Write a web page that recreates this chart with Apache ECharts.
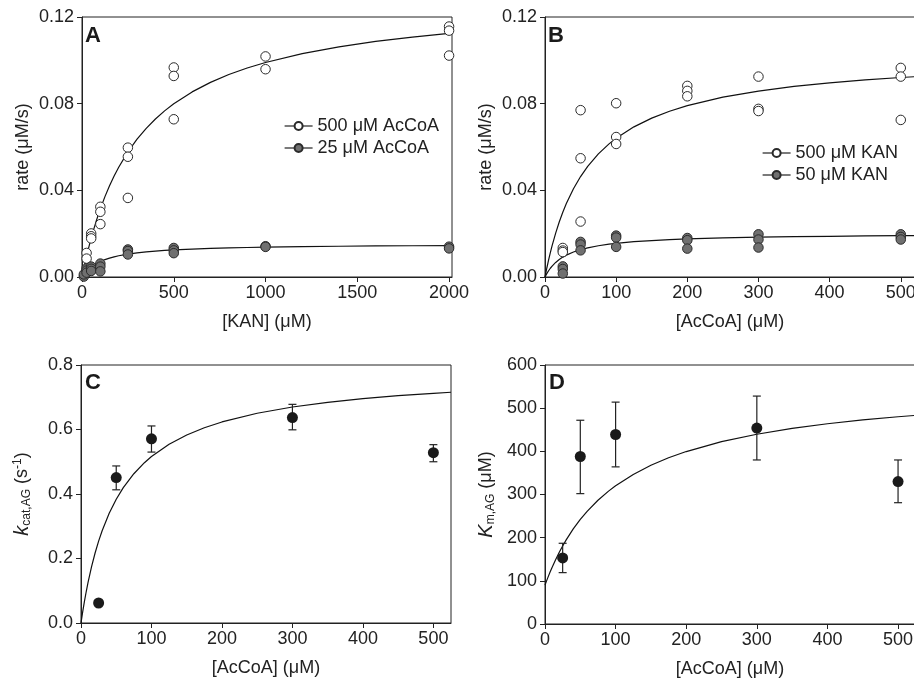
<!DOCTYPE html>
<html>
<head>
<meta charset="utf-8">
<script src="https://cdn.jsdelivr.net/npm/echarts@6/dist/echarts.min.js"></script>
<style>html,body{margin:0;padding:0;background:#fff}#chart{width:914px;height:682px}</style>
</head>
<body>
<div id="chart"></div>
<script>
// ---------- Data ----------
// Panel A: rate vs [KAN]
const aOpenX = [25,25,50,50,50,100,100,100,250,250,250,500,500,500,1000,1000,2000,2000,2000];
const aOpenY = [0.0111,0.0085,0.0201,0.0188,0.0178,0.0324,0.0301,0.0244,0.0597,0.0555,0.0365,0.0967,0.0928,0.0728,0.1018,0.0959,0.1156,0.1137,0.1022];
const aFillX = [10,10,25,25,25,50,50,50,100,100,100,250,250,250,500,500,500,1000,1000,2000,2000];
const aFillY = [0.0002,0.0012,0.0040,0.0030,0.0020,0.0048,0.0038,0.0028,0.0062,0.0048,0.0026,0.0127,0.0120,0.0104,0.0134,0.0123,0.0110,0.0142,0.0139,0.0140,0.0132];
// fitted curves
const aFitX = [0,5,10,15,20,25,30,40,50,60,75,90,100,125,150,175,200,250,300,350,400,450,500,600,700,800,900,1000,1200,1400,1600,1800,2000,2016];
const aFitOpen = [0,0.00204,0.00402,0.00595,0.00781,0.00962,0.01137,0.01473,0.01791,0.02091,0.02513,0.02903,0.03148,0.03710,0.04212,0.04662,0.05068,0.05773,0.06362,0.06863,0.07293,0.07667,0.07995,0.08543,0.08983,0.09344,0.09646,0.09901,0.10311,0.10625,0.10873,0.11074,0.11241,0.11253];
const aFitFill = [0,0.00065,0.00125,0.00180,0.00231,0.00278,0.00322,0.00401,0.00470,0.00532,0.00612,0.00680,0.00720,0.00805,0.00874,0.00932,0.00980,0.01056,0.01114,0.01159,0.01195,0.01225,0.01250,0.01290,0.01320,0.01343,0.01362,0.01377,0.01401,0.01419,0.01432,0.01442,0.01451,0.01452];
const aLegend = ['500 μM AcCoA','25 μM AcCoA'];

// Panel B: rate vs [AcCoA]
const bX = [25,25,25,50,50,50,100,100,100,200,200,200,300,300,300,500,500,500];
const bOpenY = [0.0134,0.0122,0.0115,0.0770,0.0548,0.0256,0.0802,0.0646,0.0614,0.0882,0.0859,0.0834,0.0925,0.0776,0.0766,0.0965,0.0925,0.0725];
const bFillY = [0.0049,0.0037,0.0016,0.0162,0.0150,0.0123,0.0191,0.0182,0.0139,0.0180,0.0170,0.0131,0.0197,0.0173,0.0136,0.0197,0.0185,0.0173];
const bFitX = [0,2.5,5,7.5,10,15,20,25,30,40,50,60,75,90,100,125,150,175,200,250,300,350,400,450,500,520];
const bFitOpen = [0,0.00404,0.00777,0.01124,0.01446,0.02027,0.02537,0.02988,0.03390,0.04075,0.04637,0.05106,0.05681,0.06143,0.06402,0.06930,0.07333,0.07651,0.07908,0.08299,0.08581,0.08795,0.08962,0.09097,0.09208,0.09246];
const bFitFill = [0,0.00155,0.00289,0.00404,0.00505,0.00673,0.00808,0.00918,0.01010,0.01154,0.01263,0.01347,0.01443,0.01515,0.01554,0.01629,0.01683,0.01724,0.01757,0.01804,0.01836,0.01861,0.01879,0.01894,0.01906,0.01910];
const bLegend = ['500 μM KAN','50 μM KAN'];

// Panel C: kcat,AG vs [AcCoA]
const cdX = [25,50,100,300,500];
const cY = [0.062,0.451,0.571,0.637,0.528];
const cLo = [0.062,0.413,0.530,0.599,0.500];
const cHi = [0.062,0.487,0.611,0.678,0.553];
const cFitX = [0,2.5,5,7.5,10,15,20,25,30,40,50,60,75,90,100,125,150,175,200,250,300,350,400,450,500,525];
const cFitY = [0,0.0358,0.0684,0.0984,0.1259,0.1749,0.2171,0.2539,0.2862,0.3403,0.3839,0.4197,0.4629,0.4971,0.5161,0.5542,0.5830,0.6054,0.6234,0.6504,0.6698,0.6843,0.6957,0.7048,0.7122,0.7155];

// Panel D: Km,AG vs [AcCoA]
const dY = [153,388,439,454,330];
const dLo = [119,302,364,380,281];
const dHi = [187,472,514,528,380];
const dFitX = [0,2.5,5,7.5,10,15,20,25,30,40,50,60,75,90,100,125,150,175,200,250,300,350,400,450,500,524];
const dFitY = [90,101.0,111.5,121.5,131.0,149.0,165.5,180.8,194.9,220.2,242.3,261.6,286.7,307.8,320.2,346.5,367.6,385.0,399.5,422.4,439.6,453.1,463.9,472.7,480.1,483.2];

// Tick labels
const ticksKan = [0,500,1000,1500,2000];
const ticksAc = [0,100,200,300,400,500];

// ---------- Helpers ----------
const zip = (xs, ys) => xs.map((x, i) => [x, ys[i]]);
const FONT = 'Liberation Sans, Arial, Helvetica, sans-serif';
const INK = '#222';
const FS = 18;

function xAxis(gridIndex, max, ticks, name) {
  return {
    type: 'value', gridIndex, min: 0, max,
    name, nameLocation: 'middle', nameGap: 36,
    nameTextStyle: { fontFamily: FONT, fontSize: FS, color: INK },
    axisLine: { show: true, lineStyle: { color: INK, width: 1 } },
    axisTick: { show: true, inside: false, length: 5, lineStyle: { color: INK }, customValues: ticks },
    axisLabel: { fontFamily: FONT, fontSize: FS, color: INK, margin: 7, customValues: ticks,
      formatter: v => String(v) },
    splitLine: { show: false }
  };
}
function yAxis(gridIndex, max, interval, digits, name, rich, gap) {
  return {
    type: 'value', gridIndex, min: 0, max, interval,
    name, nameLocation: 'middle', nameGap: gap, nameRotate: 90,
    nameTextStyle: { fontFamily: FONT, fontSize: FS, color: INK, rich: rich || {} },
    axisLine: { show: true, lineStyle: { color: INK, width: 1 } },
    axisTick: { show: true, inside: false, length: 5, lineStyle: { color: INK } },
    axisLabel: { fontFamily: FONT, fontSize: FS, color: INK, margin: 8,
      formatter: v => v.toFixed(digits) },
    splitLine: { show: false }
  };
}
function fit(idx, xs, ys) {
  return { type: 'line', xAxisIndex: idx, yAxisIndex: idx, data: zip(xs, ys),
    showSymbol: false, symbol: 'none', smooth: false,
    lineStyle: { color: '#111', width: 1.2 }, z: 2, silent: true, animation: false };
}
function pts(idx, name, xs, ys, fill) {
  return { type: 'line', name, xAxisIndex: idx, yAxisIndex: idx, data: zip(xs, ys),
    symbol: 'circle', symbolSize: 9.5, showSymbol: true, showAllSymbol: true,
    lineStyle: { opacity: 0, width: 0 },
    itemStyle: { color: fill, borderColor: '#2a2a2a', borderWidth: 1, opacity: 1 },
    z: 4, animation: false };
}
function errBars(idx, xs, lo, hi) {
  return { type: 'custom', xAxisIndex: idx, yAxisIndex: idx,
    data: xs.map((x, i) => [x, lo[i], hi[i]]), z: 3, animation: false, silent: true,
    renderItem: (params, api) => {
      const x = api.value(0);
      const a = api.coord([x, api.value(1)]);
      const b = api.coord([x, api.value(2)]);
      const w = 4;
      const st = { stroke: '#222', lineWidth: 1.2 };
      return { type: 'group', children: [
        { type: 'line', shape: { x1: a[0], y1: a[1], x2: b[0], y2: b[1] }, style: st },
        { type: 'line', shape: { x1: a[0]-w, y1: a[1], x2: a[0]+w, y2: a[1] }, style: st },
        { type: 'line', shape: { x1: b[0]-w, y1: b[1], x2: b[0]+w, y2: b[1] }, style: st }
      ]};
    }
  };
}
function dots(idx, xs, ys) {
  return { type: 'scatter', xAxisIndex: idx, yAxisIndex: idx, data: zip(xs, ys),
    symbol: 'circle', symbolSize: 11, itemStyle: { color: '#1a1a1a', opacity: 1 }, z: 5, animation: false };
}
function letter(t, left, top) {
  return { text: t, left, top, padding: 0,
    textStyle: { fontFamily: FONT, fontSize: 22, fontWeight: 'bold', color: '#1a1a1a' } };
}
function legend(data, left, top) {
  return { data, left, top, orient: 'vertical', padding: 0, itemGap: 2,
    itemWidth: 28, itemHeight: 10, selectedMode: false,
    textStyle: { fontFamily: FONT, fontSize: FS, color: INK, lineHeight: 20 },
    lineStyle: { color: '#222', width: 1.2, opacity: 1 } };
}

const gridBase = { show: true, borderColor: INK, borderWidth: 1, backgroundColor: 'transparent',
  containLabel: false, outerBoundsMode: 'none' };

const supSub = {
  i: { fontFamily: FONT, fontSize: 20, fontStyle: 'italic', color: INK },
  sub: { fontFamily: FONT, fontSize: 12, color: INK, padding: [10, 0, 0, 0] },
  sup: { fontFamily: FONT, fontSize: 12, color: INK, padding: [0, 0, 8, 0] },
  n: { fontFamily: FONT, fontSize: FS, color: INK }
};

const option = {
  animation: false,
  backgroundColor: '#fff',
  title: [letter('A', 85, 25), letter('B', 548, 25), letter('C', 85, 372), letter('D', 549, 372)],
  legend: [legend(aLegend, 284, 116), legend(bLegend, 762, 143)],
  grid: [
    Object.assign({ left: 82, top: 17, width: 370, height: 260 }, gridBase),
    Object.assign({ left: 545, top: 17, width: 370, height: 260 }, gridBase),
    Object.assign({ left: 81, top: 365, width: 370, height: 258 }, gridBase),
    Object.assign({ left: 545, top: 365, width: 370, height: 259 }, gridBase)
  ],
  xAxis: [
    xAxis(0, 2016, ticksKan, '[KAN] (μM)'),
    xAxis(1, 520, ticksAc, '[AcCoA] (μM)'),
    xAxis(2, 525, ticksAc, '[AcCoA] (μM)'),
    xAxis(3, 524, ticksAc, '[AcCoA] (μM)')
  ],
  yAxis: [
    yAxis(0, 0.12, 0.04, 2, 'rate (μM/s)', null, 50),
    yAxis(1, 0.12, 0.04, 2, 'rate (μM/s)', null, 50),
    yAxis(2, 0.8, 0.2, 1, '{i|k}{sub|cat,AG}{n| (s}{sup|-1}{n|)}', supSub, 48),
    yAxis(3, 600, 100, 0, '{i|K}{sub|m,AG}{n| (μM)}', supSub, 48)
  ],
  series: [
    fit(0, aFitX, aFitOpen), fit(0, aFitX, aFitFill),
    pts(0, aLegend[0], aOpenX, aOpenY, '#ffffff'),
    pts(0, aLegend[1], aFillX, aFillY, '#707070'),
    fit(1, bFitX, bFitOpen), fit(1, bFitX, bFitFill),
    pts(1, bLegend[0], bX, bOpenY, '#ffffff'),
    pts(1, bLegend[1], bX, bFillY, '#707070'),
    fit(2, cFitX, cFitY), errBars(2, cdX, cLo, cHi), dots(2, cdX, cY),
    fit(3, dFitX, dFitY), errBars(3, cdX, dLo, dHi), dots(3, cdX, dY)
  ]
};

const chart = echarts.init(document.getElementById('chart'), null, { renderer: 'canvas' });
chart.setOption(option);
</script>
</body>
</html>
